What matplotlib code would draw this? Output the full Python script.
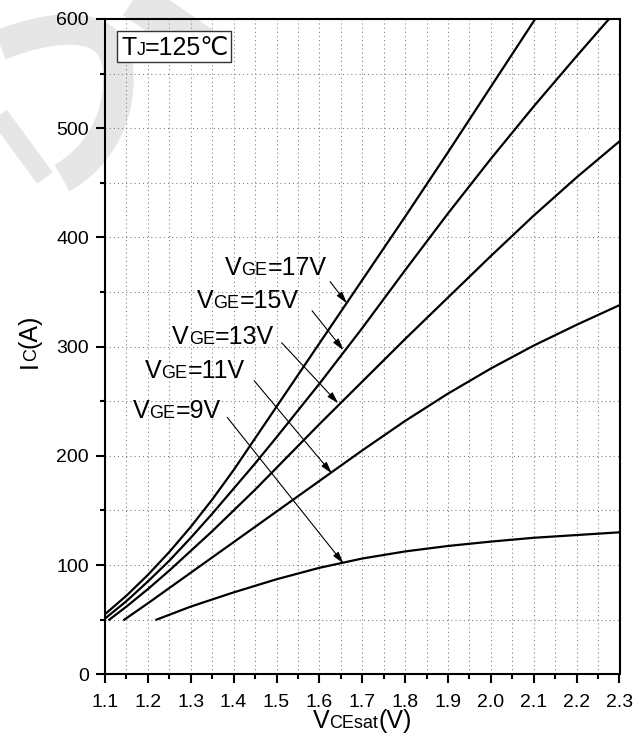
import matplotlib
matplotlib.use("Agg")
import matplotlib.pyplot as plt
from matplotlib.ticker import MultipleLocator
from matplotlib.transforms import IdentityTransform
from matplotlib.patches import Rectangle, PathPatch
from matplotlib.path import Path

plt.rcParams['font.family'] = ['Liberation Sans', 'DejaVu Sans']

# Output characteristics, Tj = 125 C
v17 = [1.10, 1.15, 1.20, 1.25, 1.30, 1.35, 1.40, 1.45, 1.50, 1.60, 1.70, 1.80, 1.90, 2.00, 2.10, 2.20]
i17 = [55, 72, 91, 112, 135, 160, 187, 216, 245, 303, 361, 419, 478, 538, 598, 656]

v15 = [1.10, 1.15, 1.20, 1.25, 1.30, 1.35, 1.40, 1.45, 1.50, 1.60, 1.70, 1.80, 1.90, 2.00, 2.10, 2.20, 2.30]
i15 = [51, 67, 85, 104, 125, 147, 170, 193, 217, 266, 317, 370, 422, 472, 520, 566, 611]

v13 = [1.11, 1.15, 1.20, 1.25, 1.30, 1.35, 1.40, 1.45, 1.50, 1.60, 1.70, 1.80, 1.90, 2.00, 2.10, 2.20, 2.30]
i13 = [50, 62, 78, 95, 113, 131, 150, 169, 189, 229, 268, 307, 345, 383, 420, 455, 488]

v11 = [1.145, 1.20, 1.30, 1.40, 1.50, 1.60, 1.70, 1.80, 1.90, 2.00, 2.10, 2.20, 2.30]
i11 = [50, 65, 93, 121, 149, 177, 205, 232, 257, 280, 301, 320, 338]

v9 = [1.22, 1.30, 1.40, 1.50, 1.60, 1.70, 1.80, 1.90, 2.00, 2.10, 2.20, 2.30]
i9 = [50, 62, 75, 87, 97.5, 106, 112.5, 117.5, 121.5, 125, 127.5, 130]

curve_labels = ["17V", "15V", "13V", "11V", "9V"]
# arrow tail / head in data units, one per curve
arrow_tails = [(1.625, 359.5), (1.583, 332.9), (1.512, 303.6), (1.448, 268.8), (1.385, 235.3)]
arrow_heads = [(1.664, 339.7), (1.656, 296.9), (1.644, 248.1), (1.629, 184.0), (1.656, 101.6)]
# label left edge / baseline in figure pixels (from top)
label_pos = [(225, 275), (197, 308), (172, 344), (145, 378), (133, 418)]

W, H = 643, 742
fig = plt.figure(figsize=(W / 100, H / 100), dpi=100)
ident = IdentityTransform()

# faint logo stroke in the background
def px_path(pts, codes):
    return Path([(x, H - y) for x, y in pts], codes)

C4 = Path.CURVE4
wm_color = '#e6e6e6'
hook = px_path([(0, 45), (60, 22), (115, 20), (118, 70), (122, 120), (95, 160), (62, 178)],
               [Path.MOVETO, C4, C4, C4, C4, C4, C4])
fig.add_artist(PathPatch(hook, transform=ident, fill=False, edgecolor=wm_color,
                         lw=22, capstyle='butt', zorder=0))
top_band = px_path([(128, -5), (205, 48)], [Path.MOVETO, Path.LINETO])
fig.add_artist(PathPatch(top_band, transform=ident, fill=False, edgecolor=wm_color,
                         lw=28, capstyle='butt', zorder=0))
low_band = px_path([(-5, 110), (45, 178)], [Path.MOVETO, Path.LINETO])
fig.add_artist(PathPatch(low_band, transform=ident, fill=False, edgecolor=wm_color,
                         lw=14, capstyle='butt', zorder=0))

ax = fig.add_axes([105 / W, (H - 674.3) / H, 514.5 / W, 655.3 / H])
ax.patch.set_alpha(0)

for v, i in [(v17, i17), (v15, i15), (v13, i13), (v11, i11), (v9, i9)]:
    ax.plot(v, i, color='black', lw=1.6, solid_joinstyle='round', zorder=3)

ax.set_xlim(1.1, 2.3)
ax.set_ylim(0, 600)
ax.xaxis.set_major_locator(MultipleLocator(0.1))
ax.xaxis.set_minor_locator(MultipleLocator(0.05))
ax.yaxis.set_major_locator(MultipleLocator(100))
ax.yaxis.set_minor_locator(MultipleLocator(50))
ax.xaxis.set_major_formatter(plt.FuncFormatter(lambda x, p: f"{x:.1f}"))

ax.grid(True, which='both', color='#7a7a7a', lw=0.75, linestyle=(0, (1, 3)))
ax.set_axisbelow(True)

for s in ax.spines.values():
    s.set_linewidth(1.5)
ax.tick_params(which='major', direction='out', length=6.5, width=1.5,
               labelsize=14, top=False, right=False)
ax.tick_params(axis='x', which='major', pad=7.5)
ax.tick_params(axis='y', which='major', pad=5)
ax.tick_params(which='minor', direction='out', length=3.6, width=1.5,
               top=False, right=False)

renderer = fig.canvas.get_renderer()


def draw_pieces(x, y_top, pieces, rotation=0):
    """Place text runs of mixed size along one baseline (pixel coords, y from top)."""
    y = H - y_top
    for s, size in pieces:
        t = fig.text(x, y, s, fontsize=size, rotation=rotation, transform=ident,
                     ha='left', va='baseline', rotation_mode='anchor', zorder=6)
        bb = t.get_window_extent(renderer)
        if rotation == 0:
            x += bb.width
        else:
            y += bb.height


for lab, (lx, ly), tail, head in zip(curve_labels, label_pos, arrow_tails, arrow_heads):
    draw_pieces(lx, ly, [("V", 18), ("GE", 13), ("=" + lab, 18)])
    ax.annotate('', xy=head, xytext=tail,
                arrowprops=dict(arrowstyle='-|>,head_length=0.7,head_width=0.2',
                                color='black', lw=0.8, shrinkA=0, shrinkB=0),
                zorder=5)

# temperature box
fig.add_artist(Rectangle((116.7, H - 61.7), 114.3, 31, transform=ident,
                         facecolor='white', edgecolor='#333333', lw=1, zorder=5))
draw_pieces(121, 55, [("T", 18), ("J", 13), ("=125℃", 18)])

# axis titles
draw_pieces(312.5, 728, [("V", 18), ("CEsat", 13), ("(V)", 18)])
draw_pieces(36.6, 368, [("I", 18), ("C", 13), ("(A)", 18)], rotation=90)

fig.savefig("out.png", dpi=100)
